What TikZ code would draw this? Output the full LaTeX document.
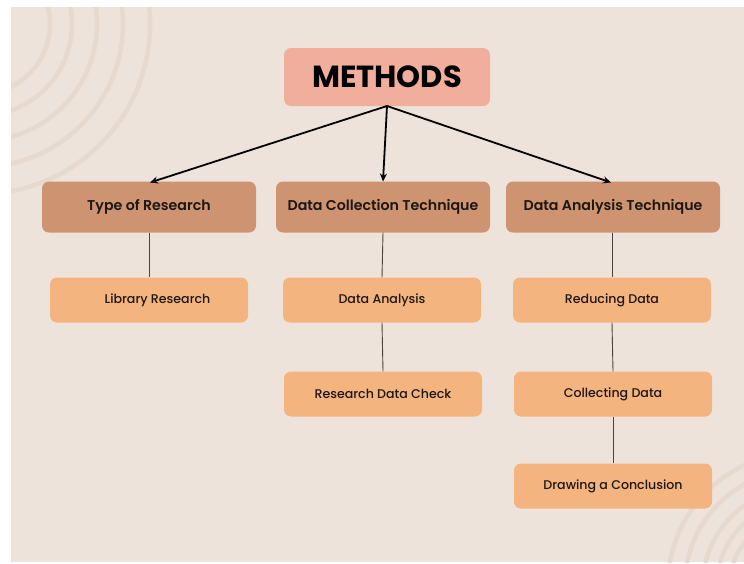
\documentclass[tikz,border=0pt]{standalone}
\usepackage{fontspec}
\setmainfont{Poppins}
\newfontfamily\medfont{Poppins Medium}
\newfontfamily\semifont{Poppins SemiBold}
\usetikzlibrary{arrows.meta}
\definecolor{paper}{HTML}{EDE3DA}
\definecolor{ring}{HTML}{E8D9CE}
\definecolor{headfill}{HTML}{F2AE9D}
\definecolor{catfill}{HTML}{CE9370}
\definecolor{itemfill}{HTML}{F4B47F}
\definecolor{ink}{HTML}{1C1712}
\definecolor{stem}{HTML}{4A4440}
\tikzset{
  headbox/.style={fill=headfill, rounded corners=7pt, minimum width=206pt, minimum height=58pt,
    inner sep=0pt, font=\fontsize{30.5}{30.5}\selectfont\bfseries, text=black},
  catbox/.style={fill=catfill, rounded corners=7pt, minimum width=214pt, minimum height=51pt,
    inner sep=0pt, font=\semifont\fontsize{14.2}{14.2}\selectfont, text=ink},
  itembox/.style={fill=itemfill, rounded corners=7pt, minimum width=198pt, minimum height=45pt,
    inner sep=0pt, font=\medfont\fontsize{12.6}{12.6}\selectfont, text=ink},
  branch/.style={-{Stealth[length=8pt,width=7pt]}, line width=1.8pt, black},
  link/.style={line width=0.9pt, stem},
  ringline/.style={ring, line width=4.5pt}
}
\begin{document}
\begin{tikzpicture}[x=1pt,y=-1pt]
\useasboundingbox (0,0) rectangle (744,563);
\fill[white] (0,0) rectangle (744,563);
\fill[paper] (11,7) rectangle (744,562);
% decorative rings in the corners
\begin{scope}
  \clip (11,7) rectangle (744,562);
  \foreach \r in {70,92,117,143,170}
    \draw[ringline] (-20,24) circle[radius=\r];
  \foreach \r in {70,83,97,115,132}
    \draw[ringline] (800,585) circle[radius=\r];
\end{scope}
% nodes
\node[headbox] (methods) at (387,77) {METHODS};
\node[catbox] (type) at (149,207) {Type of Research};
\node[catbox] (collect) at (383,207) {Data Collection Technique};
\node[catbox] (analysis) at (613,207) {Data Analysis Technique};
\node[itembox] (library) at (149,300) {\hspace{17pt}Library Research};
\node[itembox] (dataan) at (382,300) {Data Analysis};
\node[itembox] (check) at (383,394) {Research Data Check};
\node[itembox] (reduce) at (612,300) {Reducing Data};
\node[itembox] (collecting) at (613,394) {Collecting Data};
\node[itembox] (conclude) at (613,486) {Drawing a Conclusion};
% arrows from the heading
\coordinate (root) at (387,106);
\draw[branch] (root) -- (150,182.5);
\draw[branch] (root) -- (383,181.5);
\draw[branch] (root) -- (611,182.5);
% vertical links
\draw[link] (type.south) -- (library.north);
\draw[link] (collect.south) -- (dataan.north);
\draw[link] (dataan.south) -- (check.north);
\draw[link] (analysis.south -| reduce.north) -- (reduce.north);
\draw[link] (reduce.south) -- (collecting.north);
\draw[link] (collecting.south) -- (conclude.north);
\end{tikzpicture}
\end{document}
